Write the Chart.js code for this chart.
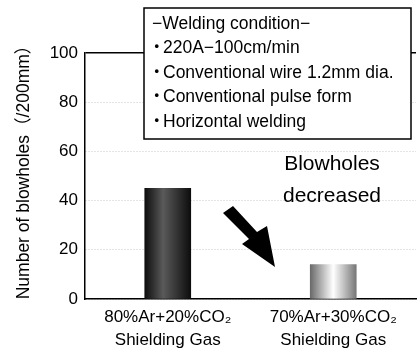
<!DOCTYPE html>
<html>
<head>
<meta charset="utf-8">
<script src="https://cdn.jsdelivr.net/npm/chart.js@4/dist/chart.umd.min.js"></script>
<style>
  html, body { margin: 0; padding: 0; background: #fff; }
  #wrap { width: 419px; height: 351px; }
</style>
</head>
<body>
<div id="wrap"><canvas id="blowholes-chart" width="419" height="351"></canvas></div>
<script>
const gasLabels = [
  ['80%Ar+20%CO\u2082', 'Shielding Gas'],
  ['70%Ar+30%CO\u2082', 'Shielding Gas']
];
const blowholeCounts = [45, 14];
const yTicks = [0, 20, 40, 60, 80, 100];
const yTitle = 'Number of blowholes\uFF08/200mm\uFF09';
const conditionLines = [
  '\u2212Welding condition\u2212',
  '\u30FB220A\u2212100cm/min',
  '\u30FBConventional wire 1.2mm dia.',
  '\u30FBConventional pulse form',
  '\u30FBHorizontal welding'
];
const noteLines = ['Blowholes', 'decreased'];

const FONT = '"Liberation Sans", Arial, "Noto Sans CJK JP", sans-serif';
const BAR_W = 46;

// bar colours: dark cylinder and light cylinder
const barStops = [
  [[0, '#0d0d0d'], [0.4, '#5a5a5a'], [1, '#0d0d0d']],
  [[0, '#6a6a6a'], [0.5, '#ffffff'], [1, '#777777']]
];

function barFill(c) {
  const chart = c.chart;
  const xs = chart.scales.x;
  if (!xs || c.dataIndex === undefined) return '#333';
  const cx = xs.getPixelForValue(c.dataIndex);
  if (!isFinite(cx)) return '#333';
  const g = chart.ctx.createLinearGradient(cx - BAR_W / 2, 0, cx + BAR_W / 2, 0);
  barStops[c.dataIndex].forEach(s => g.addColorStop(s[0], s[1]));
  return g;
}

const annotations = {
  id: 'annotations',
  afterDraw(chart) {
    const ctx = chart.ctx;
    ctx.save();
    // y axis title (sits a bit above the plot centre in the original)
    ctx.save();
    ctx.translate(24, 168);
    ctx.rotate(-Math.PI / 2);
    ctx.fillStyle = '#000';
    ctx.font = '17.5px ' + FONT;
    ctx.textAlign = 'center';
    ctx.textBaseline = 'middle';
    ctx.fillText(yTitle, 0, 0);
    ctx.restore();
    // condition box
    ctx.fillStyle = '#fff';
    ctx.fillRect(144, 8, 267, 131);
    ctx.strokeStyle = '#000';
    ctx.lineWidth = 1.5;
    ctx.strokeRect(144, 8, 267, 131);
    ctx.fillStyle = '#000';
    ctx.font = '17.5px ' + FONT;
    ctx.textBaseline = 'middle';
    ctx.textAlign = 'left';
    conditionLines.forEach((t, i) => {
      const y = 24 + i * 24.5;
      if (t[0] === '\u30FB') {
        ctx.fillText('\u30FB', 148, y);
        ctx.fillText(t.slice(1), 163, y);
      } else {
        ctx.fillText(t, 152, y);
      }
    });
    // note
    ctx.font = '21px ' + FONT;
    ctx.textAlign = 'center';
    noteLines.forEach((t, i) => ctx.fillText(t, 332, 164 + i * 32));
    // arrow
    ctx.beginPath();
    ctx.moveTo(223, 213);
    ctx.lineTo(233, 206);
    ctx.lineTo(257, 232);
    ctx.lineTo(267, 226);
    ctx.lineTo(275, 267);
    ctx.lineTo(242, 244);
    ctx.lineTo(249, 239);
    ctx.closePath();
    ctx.fill();
    ctx.restore();
  }
};

new Chart(document.getElementById('blowholes-chart'), {
  type: 'bar',
  data: {
    labels: gasLabels,
    datasets: [{
      data: blowholeCounts,
      backgroundColor: barFill,
      barThickness: BAR_W
    }]
  },
  options: {
    responsive: false,
    animation: false,
    layout: { padding: { left: 0, top: 53, right: 3, bottom: 0 } },
    plugins: {
      legend: { display: false },
      tooltip: { enabled: false }
    },
    scales: {
      y: {
        min: 0,
        max: 100,
        afterFit(scale) { scale.width = 85; },
        afterBuildTicks(scale) { scale.ticks = yTicks.map(v => ({ value: v })); },
        ticks: {
          color: '#000',
          padding: 7,
          font: { size: 17, family: FONT }
        },
        grid: {
          drawTicks: false,
          color: c => (c.tick && c.tick.value === 100) ? '#000' : '#c8c8c8',
          lineWidth: c => (c.tick && c.tick.value === 100) ? 1.5 : 1
        },
        border: {
          color: '#000',
          width: 1.5,
          dash: c => (c.tick && c.tick.value !== 100) ? [1, 2] : []
        },
        title: { display: false }
      },
      x: {
        afterFit(scale) { scale.height = 52; },
        ticks: {
          color: '#000',
          padding: 7,
          maxRotation: 0,
          font: { size: 17, family: FONT, lineHeight: 1.35 }
        },
        grid: { display: false, drawTicks: false },
        border: { color: '#000', width: 1.5 }
      }
    }
  },
  plugins: [annotations]
});
</script>
</body>
</html>
